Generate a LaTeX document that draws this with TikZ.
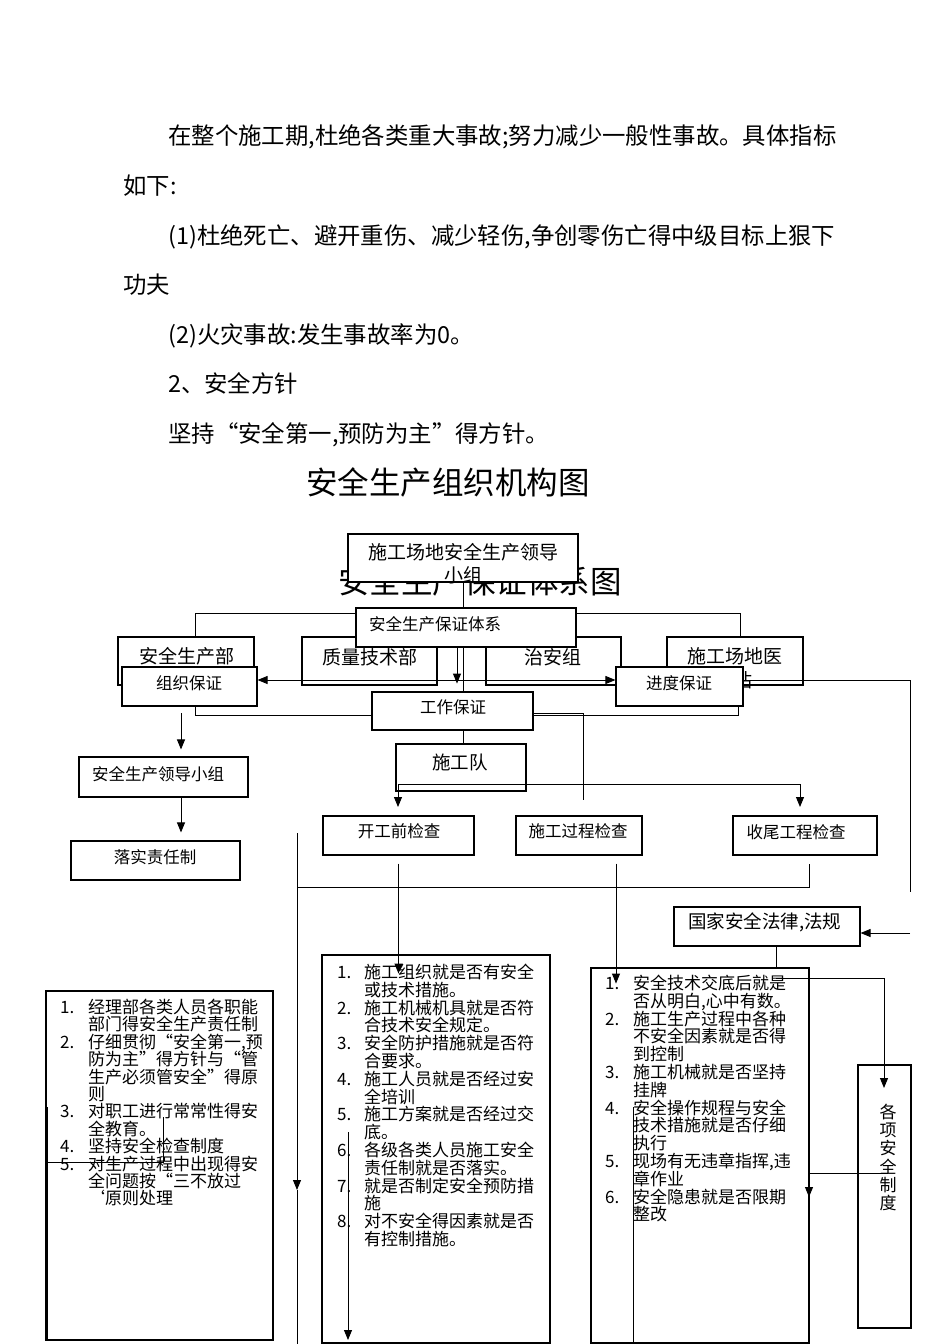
\documentclass[tikz,border=0pt]{standalone}
\usepackage{fontspec}
\setmainfont{Noto Sans CJK SC}
\usetikzlibrary{arrows.meta}
\newcommand\fsz[2]{\fontsize{#1pt}{#2pt}\selectfont}
\tikzset{
  box/.style={draw=black, line width=1.1pt, fill=white, inner sep=0pt},
  txt/.style={inner sep=0pt, align=center, text=black},
  ln/.style={draw=black, line width=0.9pt},
  arr/.style={ln, -{Triangle[length=10pt,width=8pt]}},
  arrb/.style={ln, {Triangle[length=10pt,width=8pt]}-{Triangle[length=10pt,width=8pt]}},
  para/.style={txt, anchor=base west, font=\fsz{23.4}{28}},
  lst/.style={txt, anchor=base west, font=\fsz{17}{20}},
  lab/.style={txt, font=\fsz{16.5}{20}},
  labb/.style={txt, font=\fsz{19}{24}},
}
\begin{document}
\begin{tikzpicture}[x=1pt,y=-1pt]
\useasboundingbox (0,0) rectangle (950,1344);
\fill[white] (0,0) rectangle (950,1344);

% ---- paragraph text
\node[para] (p1) at (168,144.7) {在整个施工期,杜绝各类重大事故;努力减少一般性事故。具体指标};
\node[para] (p2) at (123,194.7) {如下:};
\node[para] (p3) at (168,244.7) {(1)杜绝死亡、避开重伤、减少轻伤,争创零伤亡得中级目标上狠下};
\node[para] (p4) at (123,293.7) {功夫};
\node[para] (p5) at (168,343.7) {(2)火灾事故:发生事故率为0。};
\node[para] (p6) at (168,392.7) {2、安全方针};
\node[para] (p7) at (168,442.7) {坚持“安全第一,预防为主”得方针。};

% ---- titles
\node[txt, anchor=base, font=\fsz{31.5}{36}] (t1) at (448,494.8) {安全生产组织机构图};
\node[txt, anchor=base, font=\fsz{31.5}{36}] (t2) at (480,593.8) {安全生产保证体系图};

% ---- lead box
\node[box, minimum width=230, minimum height=48] (lead) at (463,558) {};
\node[labb, font=\fsz{19}{23}] (leadt) at (463,563.5) {施工场地安全生产领导\\小组};

% ---- department row
\node[box, minimum width=136, minimum height=48] (aqb) at (186,661) {};
\node[labb] (aqbt) at (187,656) {安全生产部};
\node[box, minimum width=135, minimum height=48] (zl) at (369.5,661) {};
\node[labb] (zlt) at (370,657) {质量技术部};
\node[box, minimum width=135, minimum height=48] (za) at (553.5,661) {};
\node[labb] (zat) at (553,657) {治安组};
\node[box, minimum width=136, minimum height=48] (yz) at (735,661) {};
\node[labb] (yzt) at (735,656) {施工场地医};
\node[labb] (yzt2) at (743,680) {站};

\draw[ln] ([xshift=9]aqb.north) -- ++(0,-23) -| ([xshift=5]yz.north);

% ---- system box
\node[box, minimum width=220, minimum height=39] (sys) at (466,627.5) {};
\node[lab, anchor=west] (syst) at (369,624) {安全生产保证体系};
\draw[ln] (lead.south) -- (lead.south |- sys.north);

% ---- guarantee boxes
\node[box, minimum width=135, minimum height=39] (zz) at (189.5,686.5) {};
\node[lab] (zzt) at (189,683) {组织保证};
\node[box, minimum width=127, minimum height=39] (jd) at (679.5,686.5) {};
\node[lab] (jdt) at (679,683) {进度保证};

\node[box, minimum width=161, minimum height=38] (gz) at (452.5,711) {};
\node[lab] (gzt) at (453,707) {工作保证};

\draw[arr] ([xshift=-9]sys.south) -- ++(0,36);
\draw[ln] ([xshift=-3]sys.south) -- ([xshift=-3]sys.south |- gz.north);
\draw[arrb] ([yshift=6.5]zz.east) -- ([yshift=6.5]jd.west);
\coordinate (r1) at (910,892);
\draw[ln] ([yshift=6.5]jd.east) -| (r1);

\draw[ln] ([yshift=-4]gz.west) -| ([xshift=5.5]zz.south);
\draw[ln] ([yshift=-4]gz.east) -| ([xshift=58.5]jd.south);
\coordinate (c583) at (583,800);
\draw[ln] ([yshift=-2]gz.east) -| (c583);

% ---- team
\node[box, minimum width=130, minimum height=47] (sgd) at (461,767.5) {};
\node[txt, font=\fsz{18.5}{22}] (sgdt) at (460,762) {施工队};
\draw[ln] ([xshift=10.5]gz.south) -- ([xshift=10.5]gz.south |- sgd.north);

\coordinate (h1) at (398,784);
\coordinate (h2) at (800,784);
\draw[ln] (h1) -- (h2);
\draw[arr] (h1) -- ++(0,23);
\draw[arr] (h2) -- ++(0,23);

% ---- checks
\node[box, minimum width=151, minimum height=39] (kg) at (398.5,835.5) {};
\node[lab] (kgt) at (399,831) {开工前检查};
\node[box, minimum width=126, minimum height=39] (sg) at (579,835.5) {};
\node[lab] (sgt) at (578,831) {施工过程检查};
\node[box, minimum width=144, minimum height=39] (sw) at (805,835.5) {};
\node[lab] (swt) at (796,832) {收尾工程检查};

% ---- left column
\node[box, minimum width=169, minimum height=40] (aq) at (163.5,777) {};
\node[lab] (aqt) at (158,774) {安全生产领导小组};
\node[box, minimum width=169, minimum height=39] (lz) at (155.5,860.5) {};
\node[lab] (lzt) at (155,857) {落实责任制};
\coordinate (l1) at (181,713);
\draw[arr] (l1) -- ([xshift=17.5,yshift=7]aq.north);
\draw[arr] ([xshift=17.5]aq.south) -- ([xshift=25.5,yshift=8]lz.north);

% ---- long lines
\coordinate (v1) at (297,833);
\coordinate (v2) at (297,1190);
\coordinate (v3) at (297,1344);
\draw[arr] (v1) -- (v2);
\draw[ln] (v2) -- (v3);
\coordinate (h3) at (297,887);
\draw[ln] (h3) -| ([xshift=4,yshift=-8]sw.south);

% ---- law box
\node[box, minimum width=186, minimum height=39] (gj) at (767,926.5) {};
\node[txt, anchor=west, font=\fsz{18.5}{22}] (gjt) at (688,922) {国家安全法律,法规};
\coordinate (r2) at (910,933);
\draw[arr] (r2) -- (gj.east |- r2);

% ---- list boxes
\node[box, minimum width=227, minimum height=349] (ll) at (159.5,1165.5) {};
\node[box, minimum width=228, minimum height=388] (ml) at (436,1149) {};
\node[box, minimum width=218, minimum height=375] (rl) at (700,1155.5) {};
\node[box, minimum width=53, minimum height=263] (gx) at (884.5,1196.5) {};

\draw[ln] ([xshift=9]gj.south) -- ([xshift=9]gj.south |- rl.north);

\foreach \n/\t [count=\i] in {1./{经理部各类人员各职能}, /{部门得安全生产责任制}, 2./{仔细贯彻“安全第一,预}, /{防为主”得方针与“管}, /{生产必须管安全”得原}, /{则}, 3./{对职工进行常常性得安}, /{全教育。}, 4./{坚持安全检查制度}, 5./{对生产过程中出现得安}, /{全问题按“三不放过}, /{‘原则处理}}
  \node[lst] (la\i) at (60,{1013.5+17.4*(\i-1)}) {\makebox[28pt][l]{\n}\t};

\foreach \n/\t [count=\i] in {1./{施工组织就是否有安全}, /{或技术措施。}, 2./{施工机械机具就是否符}, /{合技术安全规定。}, 3./{安全防护措施就是否符}, /{合要求。}, 4./{施工人员就是否经过安}, /{全培训}, 5./{施工方案就是否经过交}, /{底。}, 6./{各级各类人员施工安全}, /{责任制就是否落实。}, 7./{就是否制定安全预防措}, /{施}, 8./{对不安全得因素就是否}, /{有控制措施。}}
  \node[lst] (ma\i) at (337,{978.5+17.8*(\i-1)}) {\makebox[27pt][l]{\n}\t};

\foreach \n/\t [count=\i] in {1./{安全技术交底后就是}, /{否从明白,心中有数。}, 2./{施工生产过程中各种}, /{不安全因素就是否得}, /{到控制}, 3./{施工机械就是否坚持}, /{挂牌}, 4./{安全操作规程与安全}, /{技术措施就是否仔细}, /{执行}, 5./{现场有无违章指挥,违}, /{章作业}, 6./{安全隐患就是否限期}, /{整改}}
  \node[lst] (ra\i) at (605,{989.5+17.8*(\i-1)}) {\makebox[28pt][l]{\n}\t};

\foreach \c [count=\i] in {各,项,安,全,制,度}
  \node[txt, anchor=base, font=\fsz{17}{20}] (gx\i) at (888,{1118.5+18.2*(\i-1)}) {\c};

% ---- arrows into lists
\draw[arr] ([yshift=-8]kg.south) -- ++(0,110);
\draw[arr] ([xshift=37,yshift=-8]sg.south) -- ++(0,120);

% ---- lines inside lists
\coordinate (a1) at (163,1117);
\coordinate (a2) at (46,1162);
\draw[ln] (a1) |- (a2);
\coordinate (a3) at (47,1107);
\coordinate (a4) at (47,1340);
\draw[ln] (a3) -- (a4);
\coordinate (m1) at (348,1132);
\coordinate (m2) at (348,1340);
\draw[arr] (m1) -- (m2);
\coordinate (q1) at (633,1107);
\coordinate (q2) at (633,1343);
\draw[ln] (q1) -- (q2);
\coordinate (q3) at (776,978);
\coordinate (q4) at (884,1088);
\draw[arr] (q3) -| (q4);
\coordinate (q5) at (888,1173);
\coordinate (q6) at (809,1197);
\draw[arr] (q5) -| (q6);
\end{tikzpicture}
\end{document}
